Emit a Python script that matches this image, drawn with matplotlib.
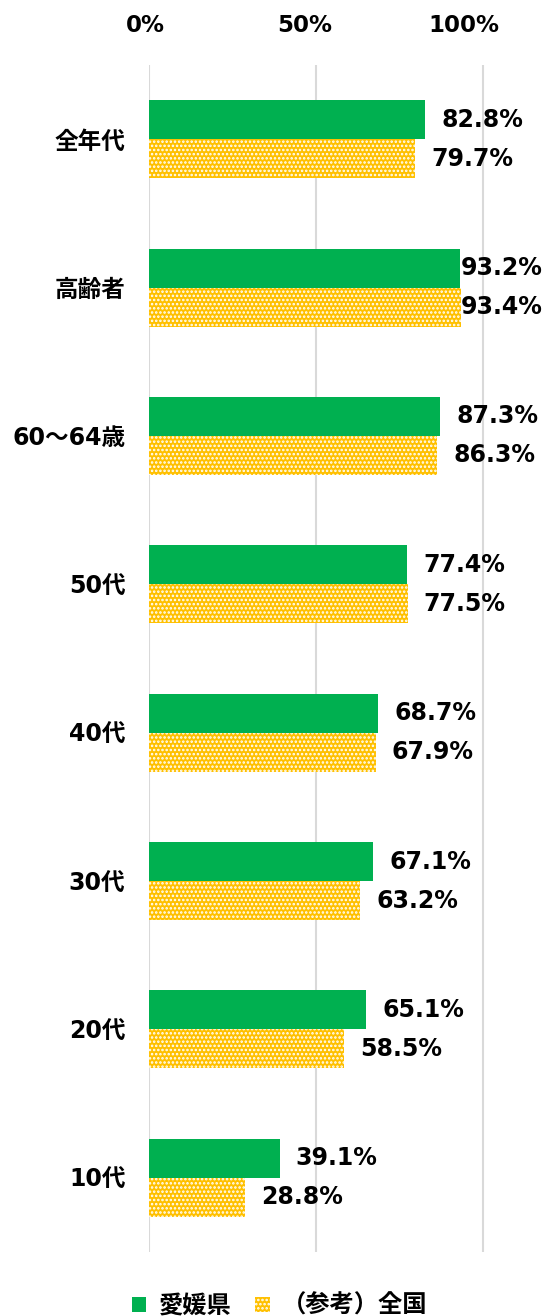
import numpy as np
import matplotlib.pyplot as plt
import matplotlib.transforms as mtransforms
from matplotlib.patches import Patch

plt.rcParams['font.family'] = ['DejaVu Sans', 'Noto Sans CJK JP']
plt.rcParams['font.weight'] = 'bold'
plt.rcParams['hatch.linewidth'] = 1.2

# data
categories = ['全年代', '高齢者', '60～64歳', '50代', '40代', '30代', '20代', '10代']
ehime = [82.8, 93.2, 87.3, 77.4, 68.7, 67.1, 65.1, 39.1]
japan = [79.7, 93.4, 86.3, 77.5, 67.9, 63.2, 58.5, 28.8]
series_names = ['愛媛県', '（参考）全国']
xticks = [0, 50, 100]

green = '#00B050'
yellow = '#FFC000'

fig = plt.figure(figsize=(5.45, 13.16), dpi=100)
ax = fig.add_axes([149/545, 64/1316, 396/545, 1187/1316])

y = np.arange(len(categories))
h = 0.263
ax.barh(y - h/2, ehime, height=h, color=green, linewidth=0, zorder=3)
ax.barh(y + h/2, japan, height=h, color=yellow, edgecolor='white', hatch='....',
        linewidth=0, zorder=3)

ax.set_xlim(0, 118.6)
ax.set_ylim(len(categories) - 0.5, -0.5)
ax.set_xticks(xticks)
ax.set_xticklabels([f'{t}%' for t in xticks], fontsize=16.5, fontweight='bold')
ax.xaxis.tick_top()
ax.tick_params(axis='x', length=0, pad=20)
shift = mtransforms.ScaledTranslation(16/100, 0, fig.dpi_scale_trans)
for lab in ax.get_xticklabels():
    lab.set_horizontalalignment('right')
    lab.set_transform(lab.get_transform() + shift)
ax.set_yticks(y)
ax.set_yticklabels(categories, fontsize=17, fontweight='bold')
ax.tick_params(axis='y', length=0, pad=17)
ax.grid(axis='x', color='#D9D9D9', linewidth=1.5, zorder=0)
for s in ax.spines.values():
    s.set_visible(False)

# value labels
for i in range(len(categories)):
    for v, off in ((ehime[i], -h/2), (japan[i], h/2)):
        xpos = min(v + 4.8, 93.3)
        ax.text(xpos, i + off, f'{v:.1f}%', va='center', ha='left',
                fontsize=17, fontweight='bold', zorder=4)

handles = [Patch(facecolor=green, linewidth=0),
           Patch(facecolor=yellow, edgecolor='white', hatch='....', linewidth=0)]
fig.legend(handles, series_names, loc='center', bbox_to_anchor=(0.513, 10/1316),
           ncol=2, frameon=False, fontsize=17.5, handlelength=0.6, handleheight=0.6,
           columnspacing=1.0, handletextpad=0.5)

fig.savefig('out.png', dpi=100)
